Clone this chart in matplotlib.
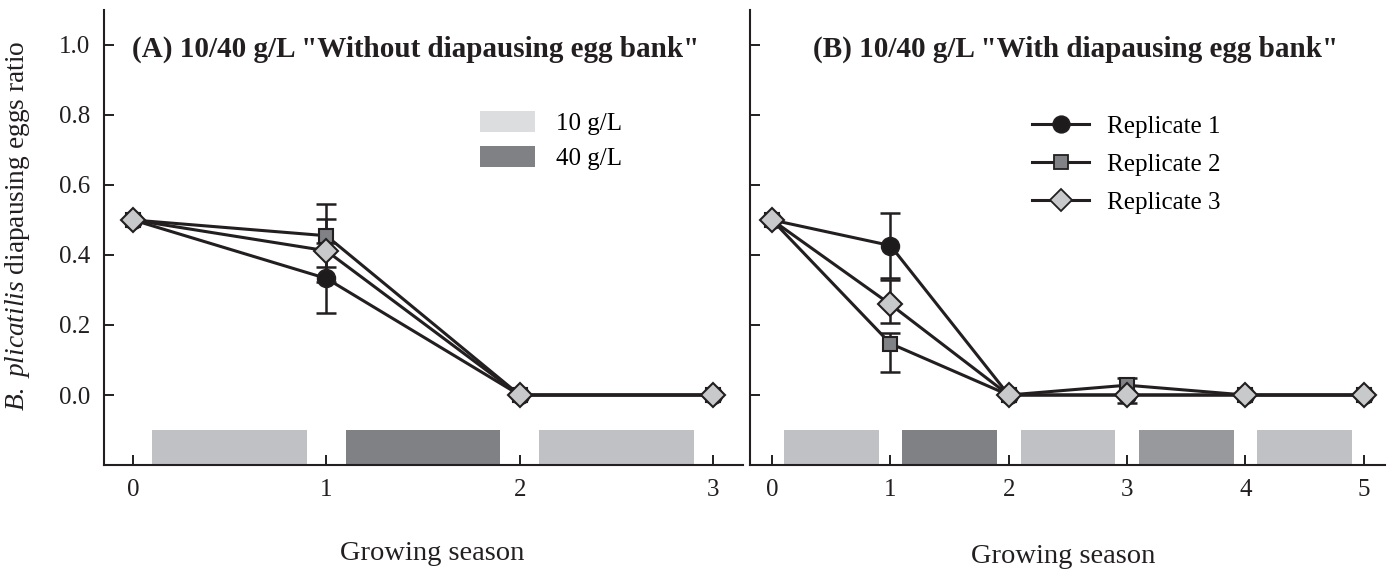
import matplotlib
matplotlib.use('Agg')
import matplotlib.pyplot as plt
from matplotlib.patches import Patch
from matplotlib.lines import Line2D

plt.rcParams['font.family'] = ['Liberation Serif', 'DejaVu Serif']
plt.rcParams['mathtext.fontset'] = 'custom'
plt.rcParams['mathtext.it'] = 'Liberation Serif:italic'
plt.rcParams['mathtext.rm'] = 'Liberation Serif'

# 数据：面板A（无休眠卵库）
seasons_a = [0, 1, 2, 3]
rep1_a = [0.5, 0.333, 0.0, 0.0]
rep2_a = [0.5, 0.455, 0.0, 0.0]
rep3_a = [0.5, 0.412, 0.0, 0.0]
rep1_a_lo = [0, 0.10, 0, 0]
rep1_a_hi = [0, 0.10, 0, 0]
rep2_a_lo = [0, 0.09, 0, 0]
rep2_a_hi = [0, 0.09, 0, 0]
rep3_a_lo = [0, 0.09, 0, 0]
rep3_a_hi = [0, 0.09, 0, 0]
salinity_a = ['10', '40', '10']

# 数据：面板B（有休眠卵库）
seasons_b = [0, 1, 2, 3, 4, 5]
rep1_b = [0.5, 0.427, 0.0, 0.0, 0.0, 0.0]
rep2_b = [0.5, 0.147, 0.0, 0.028, 0.0, 0.0]
rep3_b = [0.5, 0.259, 0.0, 0.0, 0.0, 0.0]
rep1_b_lo = [0, 0.092, 0, 0, 0, 0]
rep1_b_hi = [0, 0.092, 0, 0, 0, 0]
rep2_b_lo = [0, 0.081, 0, 0.051, 0, 0]
rep2_b_hi = [0, 0.029, 0, 0.020, 0, 0]
rep3_b_lo = [0, 0.052, 0, 0, 0, 0]
rep3_b_hi = [0, 0.070, 0, 0, 0, 0]
salinity_b = ['10', '40', '10', '40b', '10']

bar_colors = {'10': '#c0c1c4', '40': '#808185', '40b': '#98999c'}
line_col = '#231f20'
styles = [('o', '#1e1b1c', 12.5), ('s', '#808285', 10.5), ('D', '#c8c9cb', 12)]
labels = ['Replicate 1', 'Replicate 2', 'Replicate 3']

fig = plt.figure(figsize=(13.91, 5.71), dpi=100)
ax_a = fig.add_axes([0.0748, 0.1856, 0.4594, 0.797])
ax_b = fig.add_axes([0.5392, 0.1856, 0.4565, 0.797])


def draw_panel(ax, seasons, reps, errs, salinity, xlim):
    # 盐度条
    for i, s in enumerate(salinity):
        ax.bar(i + 0.5, 0.1, bottom=-0.2, width=0.8, color=bar_colors[s], zorder=1)
    for (vals, (lo, hi)), (m, fc, ms) in zip(zip(reps, errs), styles):
        idx = [i for i in range(len(seasons)) if lo[i] > 0 or hi[i] > 0]
        ax.errorbar([seasons[i] for i in idx], [vals[i] for i in idx],
                    yerr=[[lo[i] for i in idx], [hi[i] for i in idx]],
                    fmt='none', ecolor=line_col, elinewidth=1.8, capsize=7,
                    capthick=1.8, zorder=2)
        ax.plot(seasons, vals, color=line_col, lw=2.2, zorder=3)
    for vals, (m, fc, ms) in zip(reps, styles):
        ax.plot(seasons, vals, ls='none', marker=m, markersize=ms, markerfacecolor=fc,
                markeredgecolor=line_col, markeredgewidth=1.5, zorder=4)
    ax.set_xlim(*xlim)
    ax.set_ylim(-0.2, 1.1)
    ax.set_xticks(seasons)
    for sp in ['top', 'right']:
        ax.spines[sp].set_visible(False)
    for sp in ['left', 'bottom']:
        ax.spines[sp].set_linewidth(1.5)
        ax.spines[sp].set_color(line_col)
    ax.tick_params(direction='in', length=7, width=1.4, labelsize=18, colors=line_col, pad=10)
    ax.set_xlabel('Growing season', fontsize=20.5, color=line_col)


draw_panel(ax_a, seasons_a, [rep1_a, rep2_a, rep3_a],
           [(rep1_a_lo, rep1_a_hi), (rep2_a_lo, rep2_a_hi), (rep3_a_lo, rep3_a_hi)],
           salinity_a, (-0.15, 3.156))
draw_panel(ax_b, seasons_b, [rep1_b, rep2_b, rep3_b],
           [(rep1_b_lo, rep1_b_hi), (rep2_b_lo, rep2_b_hi), (rep3_b_lo, rep3_b_hi)],
           salinity_b, (-0.186, 5.18))

ax_a.set_yticks([0.0, 0.2, 0.4, 0.6, 0.8, 1.0])
ax_a.set_yticklabels(['0.0', '0.2', '0.4', '0.6', '0.8', '1.0'])
ax_b.set_yticks([0.0, 0.2, 0.4, 0.6, 0.8, 1.0])
ax_b.set_yticklabels([])

ax_a.set_ylabel(r'$\it{B.\ plicatilis}$ diapausing eggs ratio', fontsize=19.7, color=line_col)
ax_a.yaxis.set_label_coords(-0.112, 0.525)
ax_a.xaxis.set_label_coords(0.513, -0.168)
ax_b.xaxis.set_label_coords(0.493, -0.173)

ax_a.text(0.487, 0.914, '(A) 10/40 g/L "Without diapausing egg bank"', transform=ax_a.transAxes,
          ha='center', va='center', fontsize=21, fontweight='bold', color=line_col)
ax_b.text(0.512, 0.914, '(B) 10/40 g/L "With diapausing egg bank"', transform=ax_b.transAxes,
          ha='center', va='center', fontsize=21, fontweight='bold', color=line_col)

# 图例
h_sal = [Patch(facecolor='#dcdddf', edgecolor='none'), Patch(facecolor='#808185', edgecolor='none')]
ax_a.legend(h_sal, ['10 g/L', '40 g/L'], loc='upper left', bbox_to_anchor=(0.588, 0.778),
            frameon=False, fontsize=18, handlelength=2.2, handleheight=0.9,
            handletextpad=0.85, labelspacing=0.45, borderpad=0, borderaxespad=0)

h_rep = [Line2D([], [], color=line_col, lw=2.2, marker=m, markersize=ms * 0.95, markerfacecolor=fc,
                markeredgecolor=line_col, markeredgewidth=1.3) for m, fc, ms in styles]
ax_b.legend(h_rep, labels, loc='upper left', bbox_to_anchor=(0.444, 0.768),
            frameon=False, fontsize=18, handlelength=2.3, handletextpad=0.7,
            labelspacing=0.62, borderpad=0, borderaxespad=0)

fig.savefig('out.png', dpi=100)
